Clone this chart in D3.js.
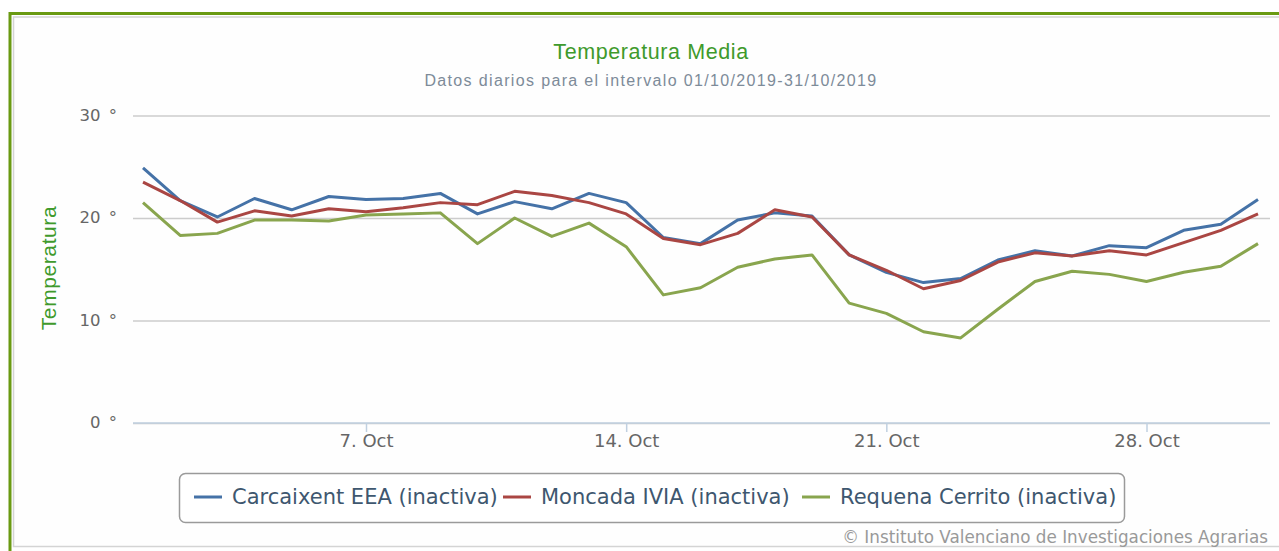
<!DOCTYPE html>
<html>
<head>
<meta charset="utf-8">
<script src="https://cdn.jsdelivr.net/npm/d3@7"></script>
<style>
  body { margin: 0; background: #fff; }
  svg { display: block; }
</style>
</head>
<body>
<svg id="svg"></svg>
<script>
const days = d3.range(1, 32).map(d => new Date(2019, 9, d));

const carcaixent = [24.9, 21.7, 20.1, 21.9, 20.8, 22.1, 21.8, 21.9, 22.4, 20.4,
                    21.6, 20.9, 22.4, 21.5, 18.1, 17.5, 19.8, 20.5, 20.2, 16.4,
                    14.7, 13.7, 14.1, 15.9, 16.8, 16.3, 17.3, 17.1, 18.8, 19.4, 21.8];
const moncada = [23.5, 21.7, 19.6, 20.7, 20.2, 20.9, 20.6, 21.0, 21.5, 21.3,
                 22.6, 22.2, 21.5, 20.4, 18.0, 17.4, 18.5, 20.8, 20.1, 16.4,
                 14.9, 13.1, 13.9, 15.7, 16.6, 16.3, 16.8, 16.4, 17.6, 18.8, 20.4];
const requena = [21.5, 18.3, 18.5, 19.8, 19.8, 19.7, 20.3, 20.4, 20.5, 17.5,
                 20.0, 18.2, 19.5, 17.2, 12.5, 13.2, 15.2, 16.0, 16.4, 11.7,
                 10.7, 8.9, 8.3, 11.1, 13.8, 14.8, 14.5, 13.8, 14.7, 15.3, 17.5];

const seriesNames = ["Carcaixent EEA (inactiva)", "Moncada IVIA (inactiva)", "Requena Cerrito (inactiva)"];
const seriesColors = ["#4572A7", "#AA4643", "#89A54E"];
const yTicks = [0, 10, 20, 30];
const xTicks = [7, 14, 21, 28].map(d => new Date(2019, 9, d));

const series = [carcaixent, moncada, requena].map((values, i) => ({
  name: seriesNames[i],
  color: seriesColors[i],
  values: values.map((v, j) => ({date: days[j], value: v}))
}));

const width = 1279;
const height = 551;

const svg = d3.select("#svg")
              .attr("width", width)
              .attr("height", height);

// frame: green outer border, grey inner panel
svg.append("rect")
   .attr("x", 10).attr("y", 13.5)
   .attr("width", 1300).attr("height", 600)
   .style("fill", "none")
   .style("stroke", "#6a9a12")
   .style("stroke-width", 3);

svg.append("rect")
   .attr("x", 13.5).attr("y", 17)
   .attr("width", 1300).attr("height", 529.5)
   .style("fill", "#fefefe")
   .style("stroke", "#d4d4d4")
   .style("stroke-width", 1.5);

const x = d3.scaleTime()
            .domain([days[0], days[days.length - 1]])
            .range([143, 1258]);

const y = d3.scaleLinear()
            .domain([0, 30])
            .range([423, 115.5]);

const plotLeft = 133;
const plotRight = 1270;

// grid + y labels
const yAxis = d3.axisLeft(y)
                .tickValues(yTicks)
                .tickSize(-(plotRight - plotLeft))
                .tickPadding(16)
                .tickFormat(d => d + "\u2002°");

const gy = svg.append("g")
              .attr("transform", "translate(" + plotLeft + ",0)")
              .call(yAxis);
gy.select(".domain").remove();
gy.selectAll(".tick line")
  .style("stroke", "#cccccc")
  .style("stroke-width", 1.5);
gy.selectAll(".tick text")
  .style("font-family", "DejaVu Sans")
  .style("font-size", "16.5px")
  .style("fill", "#666")
  .attr("dy", "0.3em");

// x axis
const xAxis = d3.axisBottom(x)
                .tickValues(xTicks)
                .tickSize(9)
                .tickPadding(2)
                .tickFormat(d3.timeFormat("%-d. Oct"));

const gx = svg.append("g")
              .attr("transform", "translate(0," + y(0) + ")")
              .call(xAxis);
gx.select(".domain")
  .attr("d", "M" + plotLeft + ",0H" + plotRight)
  .style("stroke", "#c0d0e0")
  .style("stroke-width", 1.5);
gx.selectAll(".tick line")
  .style("stroke", "#c0d0e0")
  .style("stroke-width", 1.5);
gx.selectAll(".tick text")
  .style("font-family", "DejaVu Sans")
  .style("font-size", "18px")
  .style("fill", "#666");

// lines
const line = d3.line()
               .x(d => x(d.date))
               .y(d => y(d.value));

svg.append("g")
   .selectAll("path")
   .data(series)
   .enter()
   .append("path")
   .attr("d", d => line(d.values))
   .style("fill", "none")
   .style("stroke", d => d.color)
   .style("stroke-width", 3)
   .style("stroke-linejoin", "round");

// titles
svg.append("text")
   .attr("x", 651)
   .attr("y", 59)
   .attr("text-anchor", "middle")
   .style("font-family", "Liberation Sans")
   .style("font-size", "21.5px")
   .style("letter-spacing", "0.6px")
   .style("fill", "#3f9a2c")
   .text("Temperatura Media");

svg.append("text")
   .attr("x", 651)
   .attr("y", 86)
   .attr("text-anchor", "middle")
   .style("font-family", "Liberation Sans")
   .style("font-size", "16px")
   .style("letter-spacing", "1.35px")
   .style("fill", "#7d8b99")
   .text("Datos diarios para el intervalo 01/10/2019-31/10/2019");

svg.append("text")
   .attr("transform", "translate(56,268) rotate(-90)")
   .attr("text-anchor", "middle")
   .style("font-family", "Liberation Sans")
   .style("font-size", "21px")
   .style("letter-spacing", "0.6px")
   .style("fill", "#3f9a2c")
   .text("Temperatura");

// legend
const legend = svg.append("g");

legend.append("rect")
      .attr("x", 179.5).attr("y", 473.5)
      .attr("width", 945).attr("height", 49)
      .attr("rx", 6)
      .style("fill", "#fff")
      .style("stroke", "#9a9a9a")
      .style("stroke-width", 1.5);

const legendX = [194, 503, 802];
const items = legend.selectAll("g.item")
                    .data(series)
                    .enter()
                    .append("g")
                    .attr("class", "item")
                    .attr("transform", (d, i) => "translate(" + legendX[i] + ",497)");

items.append("line")
     .attr("x1", 0).attr("x2", 28)
     .style("stroke", d => d.color)
     .style("stroke-width", 3);

items.append("text")
     .attr("x", 38)
     .attr("dy", "0.35em")
     .style("font-family", "DejaVu Sans")
     .style("font-size", "21px")
     .style("fill", "#3e576f")
     .text(d => d.name);

// credits
svg.append("text")
   .attr("x", 1268)
   .attr("y", 543)
   .attr("text-anchor", "end")
   .style("font-family", "DejaVu Sans")
   .style("font-size", "16.8px")
   .style("fill", "#999")
   .text("© Instituto Valenciano de Investigaciones Agrarias");
</script>
</body>
</html>
